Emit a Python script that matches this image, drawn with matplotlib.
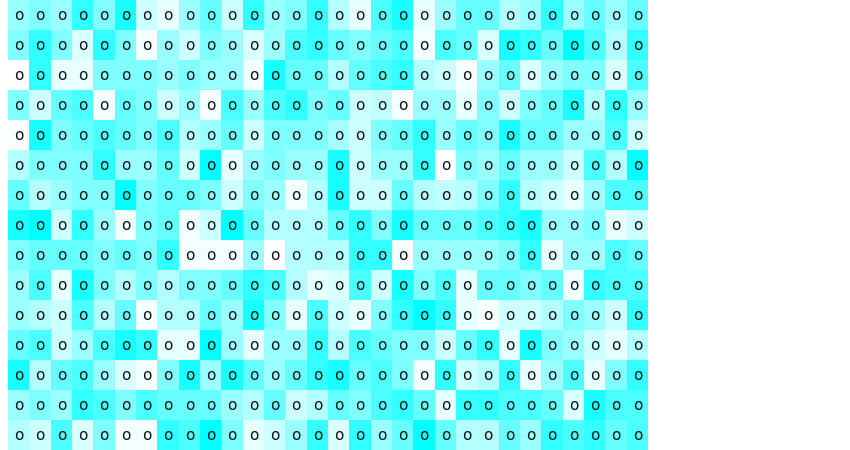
import numpy as np
import matplotlib
matplotlib.use("Agg")
import matplotlib.pyplot as plt
from matplotlib.colors import LinearSegmentedColormap

# cell intensity, 0 = white .. 10 = full cyan (15 rows x 30 cols)
row_00 = [4, 5, 4, 8, 5, 9, 2, 1, 4, 6, 2, 8, 4, 5, 8, 3, 1, 7, 9, 1, 4, 6, 6, 3, 4, 8, 4, 6, 4, 6]
row_01 = [5, 8, 5, 1.5, 8, 5, 0.5, 4, 2, 5, 4, 1.5, 4, 7, 8, 6, 5, 6, 7, 0.5, 7, 6, 1.5, 9, 8, 6, 10, 7, 3, 8]
row_02 = [0, 8, 1, 1, 5, 5, 5, 4, 5, 4, 4, 0.5, 9, 6, 6, 3, 6, 7, 8, 3, 2, 0.5, 4, 6, 1.5, 4, 5, 5, 1.5, 7]
row_03 = [5, 2, 6, 7, 0.5, 6, 5, 2, 4, 0.5, 7, 4, 7, 8, 5, 6, 2, 2.5, 0.5, 4, 4, 1, 5, 2, 5, 6, 9, 3, 8, 4]
row_04 = [0.2, 9, 5, 6, 7, 6, 5, 7, 3, 4, 6, 2, 5, 5, 5, 3.5, 2, 5, 6, 8, 4, 6, 5, 9, 6, 6, 4, 4, 7, 2]
row_05 = [3, 5, 5, 5, 8, 4, 4, 6, 2, 10, 1, 4, 5, 4, 4, 9, 2, 4, 4, 8, 0, 5, 4, 6, 4, 4, 2, 7, 3, 10]
row_06 = [6, 3, 4, 5, 5, 10, 5, 6, 6, 5, 2, 5, 4, 0.5, 3, 9, 2, 2, 6, 3, 2.5, 3, 5, 8, 3, 2, 1, 4, 7, 7]
row_07 = [9, 10, 2, 8, 4, 0.5, 5, 6, 0.5, 2, 10, 6, 3, 3, 3, 6, 8, 5, 9, 6, 6, 6, 7, 8, 9, 4, 4, 5, 1, 2]
row_08 = [5, 6, 6, 6, 5, 6, 5, 8, 0.5, 0.5, 0.5, 4, 0, 3, 3, 3, 8, 8, 0.5, 4, 4, 4, 4, 5, 8, 1, 4, 4, 7, 6]
row_09 = [4, 7, 1, 9, 5, 3, 5, 3, 5, 5, 6, 8, 7, 3, 1, 1.5, 7, 2, 9, 5, 7, 1, 6, 6, 5, 6, 0.5, 8, 7, 7]
row_10 = [4, 3, 2, 7, 3, 6, 0.5, 3, 3, 6, 4, 9, 5, 1, 7, 2, 1, 5, 8, 10, 8, 1, 0.3, 2, 2, 3, 5, 4, 2, 8]
row_11 = [6, 7, 2, 4, 7, 9, 8, 1, 1, 10, 4, 1, 4, 4, 8, 3, 7, 6, 5, 5, 2, 6, 8, 1, 9, 5, 4, 2, 1, 3]
row_12 = [9, 3, 6, 7, 4, 1.5, 0.5, 5, 9, 4, 9, 6, 4, 6, 8, 9, 6, 7, 5, 0.5, 8, 2, 3, 8, 1, 4, 7, 1, 5, 8]
row_13 = [4, 5, 4, 8, 7, 5, 7, 6, 6, 6, 4, 3, 6, 2, 3, 6, 5, 7, 8, 6, 1, 8, 8, 7, 7, 6, 1.5, 9, 7, 7]
row_14 = [3, 2, 7, 1.5, 5, 0.5, 0.5, 8, 7, 10, 5, 1, 2, 4, 8, 1.5, 8, 4, 6, 10, 6, 3, 3, 6, 4, 8, 7, 8, 6, 7]

rows = [row_00, row_01, row_02, row_03, row_04, row_05, row_06, row_07,
        row_08, row_09, row_10, row_11, row_12, row_13, row_14]
cell_label = "o"

data = np.array(rows, dtype=float)
n_rows, n_cols = data.shape

cmap = LinearSegmentedColormap.from_list("white_cyan", ["#ffffff", "#00ffff"])

fig = plt.figure(figsize=(8.5, 4.5), dpi=100)
ax = fig.add_axes([8 / 850, 0, 640 / 850, 1])
ax.imshow(data, cmap=cmap, vmin=0, vmax=10, aspect="auto", interpolation="nearest")

for r in range(n_rows):
    for c in range(n_cols):
        ax.text(c, r, cell_label, ha="center", va="center", fontsize=11, color="#111111")

ax.set_axis_off()
fig.savefig("out.png", dpi=100)
